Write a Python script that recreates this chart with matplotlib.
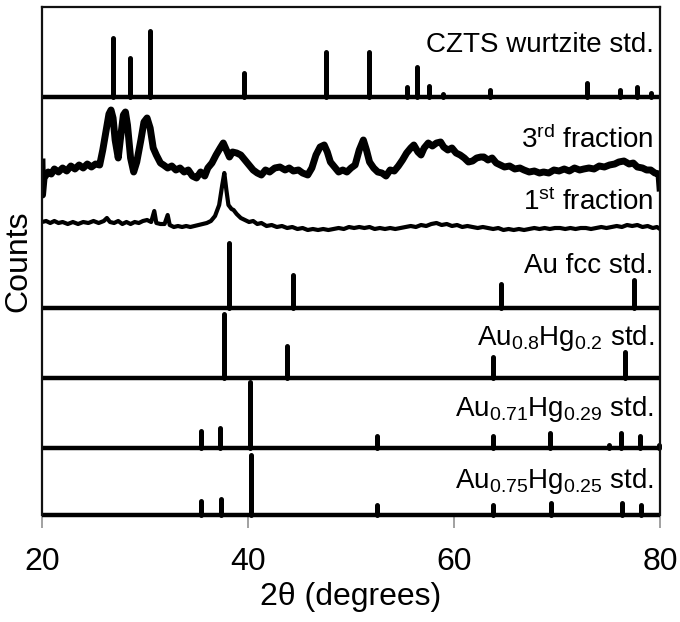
import numpy as np
import matplotlib
matplotlib.use("Agg")
import matplotlib.pyplot as plt

plt.rcParams['font.family'] = ['Liberation Sans', 'DejaVu Sans']
plt.rcParams['mathtext.fontset'] = 'custom'
plt.rcParams['mathtext.rm'] = 'Liberation Sans'
plt.rcParams['mathtext.it'] = 'Liberation Sans:italic'
plt.rcParams['mathtext.bf'] = 'Liberation Sans:bold'

# --- reference patterns: peak position (2theta) and relative intensity (%) ---
czts_pos = [26.9, 28.5, 30.5, 39.6, 47.6, 51.75, 55.4, 56.4, 57.6, 58.9, 63.5, 72.9, 76.1, 77.8, 79.1]
czts_int = [89, 59, 100, 36, 68, 68, 15, 45, 17, 5, 11, 21, 11, 15, 6]

aufcc_pos = [38.2, 44.4, 64.6, 77.5]
aufcc_int = [100, 51, 37, 43]

au80_pos = [37.7, 43.8, 63.8, 76.6]
au80_int = [100, 50, 33, 41]

au71_pos = [35.4, 37.3, 40.2, 52.5, 63.8, 69.3, 75.0, 76.2, 78.1, 79.9]
au71_int = [26, 30, 100, 18, 18, 23, 5, 23, 18, 5]

au75_pos = [35.4, 37.4, 40.3, 52.5, 63.8, 69.4, 76.3, 78.2]
au75_int = [23, 27, 100, 17, 17, 20, 20, 17]

# --- measured patterns (arbitrary counts) ---
third_tth = [20.0, 20.05, 20.2, 20.6, 20.9, 21.2, 21.6, 22.0, 22.4, 22.8, 23.2, 23.6, 24.0, 24.4, 24.8,
             25.2, 25.6, 25.9, 26.2, 26.5, 26.7, 26.9, 27.1, 27.4, 27.6, 27.9, 28.1, 28.3, 28.6, 28.9,
             29.2, 29.6, 29.9, 30.2, 30.5, 30.8, 31.1, 31.5, 31.8, 32.2, 32.6, 33.0, 33.4, 33.8, 34.2,
             34.6, 35.0, 35.4, 35.8, 36.1, 36.5, 36.9, 37.3, 37.6, 37.9, 38.2, 38.5, 38.9, 39.3, 39.7,
             40.1, 40.5, 40.9, 41.3, 41.7, 42.1, 42.6, 43.1, 43.6, 44.0, 44.4, 44.9, 45.3, 45.8, 46.2,
             46.6, 47.0, 47.4, 47.7, 48.0, 48.4, 48.8, 49.2, 49.6, 50.0, 50.4, 50.8, 51.2, 51.5, 51.8,
             52.2, 52.6, 53.0, 53.4, 53.8, 54.2, 54.6, 55.0, 55.4, 55.8, 56.1, 56.5, 56.8, 57.1, 57.5,
             57.9, 58.3, 58.7, 59.0, 59.4, 59.8, 60.2, 60.6, 61.0, 61.4, 61.8, 62.2, 62.6, 62.9, 63.3,
             63.7, 64.1, 64.5, 64.9, 65.4, 65.9, 66.4, 66.8, 67.3, 67.8, 68.3, 68.7, 69.2, 69.7, 70.2,
             70.7, 71.2, 71.7, 72.2, 72.6, 73.1, 73.6, 74.1, 74.6, 75.1, 75.6, 76.0, 76.5, 77.0, 77.4,
             77.8, 78.3, 78.7, 79.1, 79.5, 79.9, 80.0]
third_cts = [38, 5, 22, 28, 26, 31, 28, 32, 29, 34, 31, 35, 32, 36, 33,
             36, 35, 50, 68, 86, 90, 82, 60, 42, 60, 85, 88, 75, 42, 28,
             38, 60, 78, 82, 72, 52, 45, 37, 35, 32, 34, 30, 32, 28, 30,
             24, 22, 28, 24, 32, 37, 45, 52, 57, 50, 43, 48, 47, 45, 40,
             35, 30, 27, 25, 30, 28, 32, 33, 30, 32, 29, 30, 27, 25, 32,
             45, 53, 55, 48, 38, 33, 28, 30, 28, 32, 35, 50, 60, 50, 38,
             32, 28, 27, 24, 30, 29, 34, 40, 47, 52, 55, 48, 45, 52, 57,
             54, 57, 58, 53, 50, 52, 47, 45, 42, 38, 39, 42, 43, 43, 40,
             42, 37, 35, 33, 34, 31, 32, 30, 28, 29, 27, 28, 27, 30, 29,
             31, 29, 32, 30, 31, 32, 31, 34, 33, 35, 36, 38, 39, 36, 37,
             33, 32, 30, 30, 27, 26, 12]

first_tth = [20.0, 20.4, 20.8, 21.2, 21.6, 22.0, 22.5, 23.0, 23.5, 24.0, 24.5, 25.0, 25.5, 26.0, 26.3,
             26.6, 27.0, 27.4, 27.8, 28.2, 28.6, 29.0, 29.4, 29.8, 30.2, 30.6, 30.9, 31.1, 31.5, 31.9,
             32.2, 32.4, 32.8, 33.2, 33.6, 34.0, 34.4, 34.8, 35.2, 35.6, 36.0, 36.4, 36.8, 37.2, 37.5,
             37.7, 37.9, 38.1, 38.4, 38.6, 38.9, 39.3, 39.7, 40.1, 40.5, 40.9, 41.3, 41.8, 42.3, 42.8,
             43.3, 43.8, 44.3, 44.8, 45.3, 45.8, 46.3, 46.8, 47.3, 47.8, 48.3, 48.8, 49.3, 49.8, 50.3,
             50.8, 51.3, 51.8, 52.3, 52.8, 53.3, 53.8, 54.3, 54.8, 55.3, 55.8, 56.3, 56.8, 57.3, 57.8,
             58.3, 58.8, 59.3, 59.8, 60.3, 60.8, 61.3, 61.8, 62.3, 62.8, 63.3, 63.8, 64.3, 64.8, 65.3,
             65.8, 66.3, 66.8, 67.3, 67.8, 68.3, 68.8, 69.3, 69.8, 70.3, 70.8, 71.3, 71.8, 72.3, 72.8,
             73.3, 73.8, 74.3, 74.8, 75.3, 75.8, 76.3, 76.8, 77.3, 77.8, 78.3, 78.8, 79.3, 79.7, 80.0]
first_cts = [13, 14, 12, 14, 12, 13, 11, 13, 11, 13, 12, 14, 12, 14, 17,
             13, 12, 14, 11, 13, 11, 13, 12, 14, 15, 13, 24, 12, 11, 11,
             20, 10, 8, 9, 8, 9, 8, 9, 10, 11, 12, 14, 19, 30, 50,
             62, 45, 30, 26, 25, 21, 17, 15, 13, 14, 11, 12, 9, 10, 8,
             9, 7, 8, 6, 7, 5, 6, 5, 6, 5, 6, 7, 6, 8, 7,
             8, 7, 8, 6, 7, 6, 7, 6, 7, 8, 9, 8, 10, 9, 11,
             12, 10, 11, 9, 10, 8, 9, 8, 7, 8, 7, 6, 7, 5, 6,
             5, 6, 5, 6, 7, 6, 7, 6, 7, 7, 6, 7, 6, 7, 7,
             6, 7, 8, 7, 8, 9, 8, 10, 9, 10, 8, 9, 7, 8, 6]

std_labels = ['CZTS wurtzite std.', r'Au fcc std.', r'$\mathregular{Au_{0.8}Hg_{0.2}}$ std.',
              r'$\mathregular{Au_{0.71}Hg_{0.29}}$ std.', r'$\mathregular{Au_{0.75}Hg_{0.25}}$ std.']

# stacking: (positions, intensities, baseline offset, height of 100 %, label y)
std_sets = [
    (czts_pos, czts_int, 418, 66, 470),
    (aufcc_pos, aufcc_int, 207, 65, 249),
    (au80_pos, au80_int, 137, 64, 177),
    (au71_pos, au71_int, 67, 66, 106),
    (au75_pos, au75_int, 0, 60, 34),
]

fig = plt.figure(figsize=(6.8, 6.22), dpi=100)
ax = fig.add_axes([42 / 680, 107 / 622, 618 / 680, 508 / 622])

for (pos, inten, base, h, ly), lab in zip(std_sets, std_labels):
    tops = base + np.array(inten) / 100.0 * h
    ax.vlines(pos, base, tops, color='black', lw=3.6, capstyle='round', clip_on=False)
    ax.hlines(base, 20, 80, color='black', lw=3.2, clip_on=False)
    ax.text(79.4, ly, lab, ha='right', va='center', fontsize=20)

# measured patterns
ax.plot(third_tth, np.array(third_cts) + 315, color='black', lw=5.0)
ax.plot(first_tth, np.array(first_cts) + 280, color='black', lw=3.0)
ax.text(79.4, 375, r'3$^{\mathregular{rd}}$ fraction', ha='right', va='center', fontsize=20)
ax.text(79.4, 313, r'1$^{\mathregular{st}}$ fraction', ha='right', va='center', fontsize=20)

ax.set_xlim(20, 80)
ax.set_ylim(0, 508)
ax.set_xticks([20, 40, 60, 80])
ax.set_yticks([])
ax.tick_params(axis='x', direction='out', length=9, width=1.3, color='#9a9a9a',
               pad=14, labelsize=23)
ax.spines['bottom'].set_visible(False)
for s in ['left', 'right', 'top']:
    ax.spines[s].set_linewidth(1.6)
    ax.spines[s].set_color('#111111')

ax.set_xlabel('2θ (degrees)', fontsize=23, labelpad=4)
ax.set_ylabel('Counts', fontsize=23, labelpad=6)

fig.savefig('out.png', dpi=100)
